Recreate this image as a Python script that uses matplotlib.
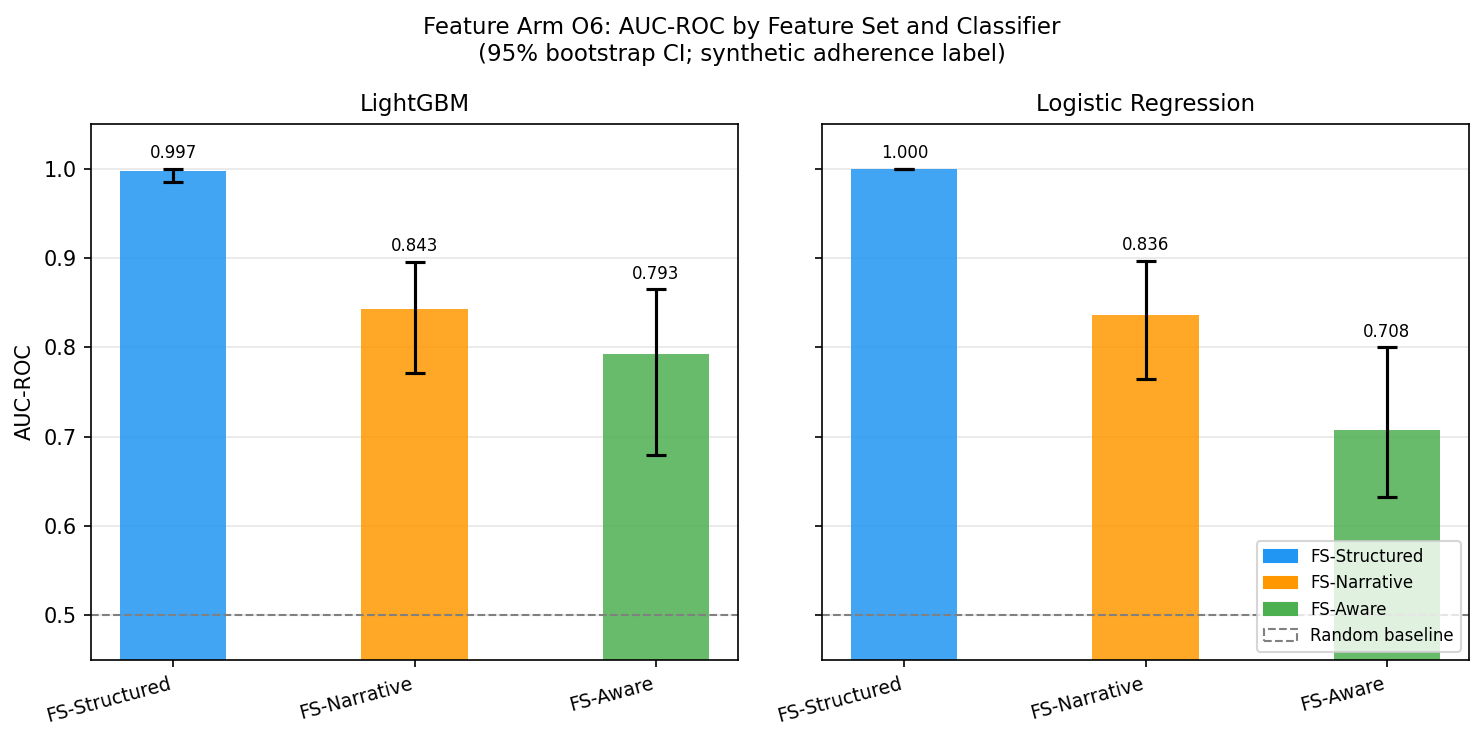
import matplotlib
matplotlib.use("Agg")
import matplotlib.pyplot as plt
from matplotlib.patches import Patch
import numpy as np

# ---------------------------------------------------------
# data
# ---------------------------------------------------------
feature_sets = ["FS-Structured", "FS-Narrative", "FS-Aware"]
colors = ["#2196F3", "#FF9800", "#4CAF50"]

classifiers = ["LightGBM", "Logistic Regression"]
auc = {
    "LightGBM": [0.997, 0.843, 0.793],
    "Logistic Regression": [1.000, 0.836, 0.708],
}
ci_low = {
    "LightGBM": [0.985, 0.771, 0.680],
    "Logistic Regression": [1.000, 0.764, 0.633],
}
ci_high = {
    "LightGBM": [1.000, 0.896, 0.865],
    "Logistic Regression": [1.000, 0.897, 0.800],
}

# ---------------------------------------------------------
# plotting
# ---------------------------------------------------------
fig = plt.figure(figsize=(1484 / 150, 742 / 150), dpi=150)
ax1 = fig.add_axes([91 / 1484, 82 / 742, 647 / 1484, 536 / 742])
ax2 = fig.add_axes([822 / 1484, 82 / 742, 647 / 1484, 536 / 742], sharey=ax1)

x = np.arange(len(feature_sets))
for ax, clf in zip([ax1, ax2], classifiers):
    vals = np.array(auc[clf])
    lo = vals - np.array(ci_low[clf])
    hi = np.array(ci_high[clf]) - vals
    ax.bar(x, vals, width=0.44, color=colors, alpha=0.85,
           yerr=[lo, hi], capsize=5,
           error_kw=dict(elinewidth=1.5, capthick=1.5, ecolor="black"))
    # value labels just above the upper CI
    for xi, v, top in zip(x, vals, ci_high[clf]):
        ax.text(xi, top + 0.007, "%.3f" % v, ha="center", va="bottom",
                fontsize=8)
    ax.axhline(0.5, color="gray", linestyle="--", linewidth=1)
    ax.set_xticks(x)
    ax.set_xticklabels(feature_sets, rotation=15, ha="right", fontsize=9)
    ax.set_title(clf, fontsize=11)
    ax.grid(axis="y", alpha=0.3)
    ax.set_axisbelow(True)
    ax.tick_params(axis="y", labelsize=10)

ax1.set_ylim(0.45, 1.05)
ax1.set_ylabel("AUC-ROC", fontsize=10)
plt.setp(ax2.get_yticklabels(), visible=False)

handles = [Patch(color=c, label=fs) for c, fs in zip(colors, feature_sets)]
handles.append(Patch(facecolor="none", edgecolor="gray", linestyle="--",
                     label="Random baseline"))
ax2.legend(handles=handles, loc="lower right", fontsize=8)

fig.suptitle("Feature Arm O6: AUC-ROC by Feature Set and Classifier\n"
             "(95% bootstrap CI; synthetic adherence label)",
             fontsize=11, y=0.978)

plt.savefig("out.png", dpi=150)
